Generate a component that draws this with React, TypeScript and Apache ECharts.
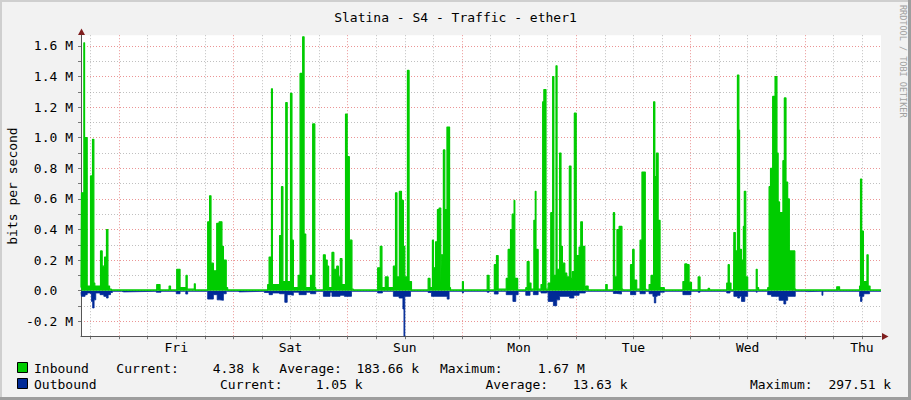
import React, { useEffect, useRef } from 'react';
import * as echarts from 'echarts';

// ---- text / categories ----
const TITLE = 'Slatina - S4 - Traffic - ether1';
const Y_AXIS_NAME = 'bits per second';
const WATERMARK = 'RRDTOOL / TOBI OETIKER';
const DAY_LABELS = ['Fri', 'Sat', 'Sun', 'Mon', 'Tue', 'Wed', 'Thu'];

// x is hours since Thu 16:00 (left edge) -> 168 h window
const X_MIN = 0;
const X_MAX = 168;
const LABEL_HOURS = [20, 44, 68, 92, 116, 140, 164]; // noon of each day
const MIDNIGHT_HOURS = [8, 32, 56, 80, 104, 128, 152];
const SIX_HOUR_HOURS = [2, 14, 20, 26, 38, 44, 50, 62, 68, 74, 86, 92, 98, 110, 116, 122, 134, 140, 146, 158, 164];

// y in Mbit/s
const Y_MIN = -0.2975;
const Y_MAX = 1.67;
const Y_MAJOR = [-0.2, 0, 0.2, 0.4, 0.6, 0.8, 1.0, 1.2, 1.4, 1.6];
const Y_MINOR = [-0.1, 0.1, 0.3, 0.5, 0.7, 0.9, 1.1, 1.3, 1.5];

// ---- legend ----
const LEGEND_NAMES = ['Inbound', 'Outbound'];
const LEGEND_CURRENT = ['4.38 k', '1.05 k'];
const LEGEND_AVERAGE = ['183.66 k', '13.63 k'];
const LEGEND_MAXIMUM = ['1.67 M', '297.51 k'];

// ---- series: [hour, value(M)] change points (value held until next point) ----
const INBOUND: [number, number][] = [
  [0, 0.02], [0.1, 0.64], [0.6, 1.62], [0.75, 1.0], [1.3, 0.03],
  [2.0, 0.75], [2.42, 0.99], [2.7, 0.05], [2.9, 0.03],
  [4.1, 0.26], [4.45, 0.16], [4.95, 0.22], [5.35, 0.4], [5.65, 0.03], [6.0, 0.01], [6.4, 0.005],
  [15.9, 0.04], [16.6, 0.005], [18.5, 0.03], [18.8, 0.005],
  [20.1, 0.14], [20.8, 0.02], [22.05, 0.1], [22.3, 0.01], [23.8, 0.045], [24.0, 0.005],
  [26.6, 0.45], [27.0, 0.62], [27.3, 0.18], [27.8, 0.13], [28.5, 0.44], [29.0, 0.45], [29.6, 0.29], [29.9, 0.2], [30.5, 0.02], [30.8, 0.005],
  [39.2, 0.04], [39.5, 0.22], [40.0, 1.32], [40.2, 0.04], [41.7, 0.36], [42.1, 0.68], [42.4, 0.06],
  [43.0, 1.23], [43.3, 0.06], [44.0, 1.29], [44.3, 0.33], [44.6, 0.02], [45.6, 0.1], [46.0, 1.42],
  [46.55, 1.66], [46.85, 0.37], [47.2, 0.02], [48.2, 0.1], [48.65, 1.09], [49.1, 0.02], [49.3, 0.005],
  [50.9, 0.235], [51.3, 0.2], [51.7, 0.16], [52.0, 0.02], [52.7, 0.25], [53.1, 0.14], [53.7, 0.16], [54.05, 0.09],
  [54.45, 0.21], [54.8, 0.04], [55.55, 1.155], [55.9, 0.876], [56.35, 0.33], [56.9, 0.01], [57.2, 0.005],
  [62.3, 0.15], [62.85, 0.29], [63.2, 0.02], [63.9, 0.09], [64.5, 0.02], [65.6, 0.16], [66.05, 0.64], [66.35, 0.09],
  [66.85, 0.65], [67.3, 0.59], [67.7, 0.29], [68.0, 0.09], [68.55, 1.44], [68.9, 0.06], [69.4, 0.005],
  [72.9, 0.08], [73.3, 0.02], [73.8, 0.33], [74.0, 0.15], [74.45, 0.32], [74.85, 0.53], [75.2, 0.54], [75.55, 0.04],
  [75.65, 0.235], [76.1, 0.92], [76.4, 0.53], [76.85, 1.07], [77.4, 0.02], [77.6, 0.005],
  [80.1, 0.06], [80.3, 0.005],
  [85.3, 0.1], [85.7, 0.005], [86.8, 0.17], [87.25, 0.23], [87.6, 0.01], [89.3, 0.08], [89.7, 0.27], [90.2, 0.4],
  [90.55, 0.5], [90.95, 0.59], [91.1, 0.08], [91.7, 0.005],
  [93.4, 0.02], [93.7, 0.19], [94.1, 0.05], [94.5, 0.01], [95.1, 0.46], [95.4, 0.65], [95.55, 0.27], [96.0, 0.01],
  [96.6, 0.04], [96.95, 1.235], [97.2, 1.315], [97.65, 0.01], [98.1, 0.05], [98.65, 0.51], [99.05, 1.4], [99.3, 0.1],
  [99.75, 1.47], [99.97, 0.14], [100.5, 0.9], [100.8, 0.29], [101.1, 0.18], [101.6, 0.115], [102.0, 0.09],
  [102.55, 0.815], [102.9, 0.08], [103.2, 0.125], [103.6, 1.16], [104.0, 0.06], [104.1, 0.23], [104.6, 0.285],
  [104.95, 0.45], [105.3, 0.29], [105.8, 0.01], [106.05, 0.03], [106.5, 0.005],
  [110.2, 0.04], [110.5, 0.005], [111.8, 0.51], [112.05, 0.09], [112.55, 0.4], [113.0, 0.42], [113.6, 0.01], [113.8, 0.005],
  [115.4, 0.17], [115.85, 0.27], [116.15, 0.07], [116.7, 0.01], [117.4, 0.33], [117.8, 0.775], [118.5, 0.01], [118.7, 0.005],
  [119.3, 0.04], [119.7, 0.1], [120.25, 1.235], [120.5, 0.745], [120.85, 0.9], [121.2, 0.46], [121.6, 0.02], [122.5, 0.005],
  [126.4, 0.06], [126.8, 0.175], [127.25, 0.17], [127.7, 0.055], [128.2, 0.005], [129.6, 0.09], [130.0, 0.005],
  [131.7, 0.015], [132.0, 0.005],
  [135.6, 0.05], [135.9, 0.17], [136.15, 0.05], [136.5, 0.005], [137.05, 0.04], [137.1, 0.38], [137.4, 0.26],
  [137.85, 1.41], [138.15, 1.05], [138.3, 0.27], [138.7, 0.2], [139.1, 0.42], [139.3, 0.65], [139.6, 0.09], [140.0, 0.005],
  [141.8, 0.14], [142.0, 0.02], [142.3, 0.005],
  [144.2, 0.02], [144.5, 0.68], [144.8, 0.8], [145.25, 1.27], [145.75, 1.4], [146.15, 0.9], [146.4, 0.58], [146.7, 0.51],
  [147.4, 0.85], [147.7, 1.26], [148.05, 0.71], [148.4, 0.6], [148.75, 0.26], [149.9, 0.01], [150.1, 0.005],
  [158.7, 0.025], [159.3, 0.005], [163.5, 0.03], [163.7, 0.73], [163.95, 0.39], [164.3, 0.06], [165.05, 0.235],
  [165.3, 0.03], [165.7, 0.005], [168, 0.005],
];

const OUTBOUND: [number, number][] = [
  [0, -0.01], [0.1, -0.037], [0.85, -0.026], [1.3, -0.015], [2.0, -0.02], [2.2, -0.07], [2.45, -0.113], [2.75, -0.06],
  [3.1, -0.015], [4.0, -0.026], [4.8, -0.037], [5.35, -0.048], [5.7, -0.026], [6.2, -0.012], [6.6, -0.004],
  [8.5, -0.008], [9.0, -0.004], [15.8, -0.01], [16.8, -0.004],
  [20.0, -0.02], [20.8, -0.004], [22.0, -0.022], [22.4, -0.004],
  [26.6, -0.055], [27.8, -0.026], [28.6, -0.06], [29.1, -0.063], [29.9, -0.02], [30.5, -0.004],
  [33.0, -0.008], [33.3, -0.004],
  [38.5, -0.012], [39.5, -0.026], [40.2, -0.015], [41.7, -0.02], [42.8, -0.076], [43.3, -0.026], [44.0, -0.03],
  [44.6, -0.01], [45.8, -0.026], [47.3, -0.01], [48.2, -0.02], [49.3, -0.004],
  [50.9, -0.037], [52.3, -0.01], [52.7, -0.037], [54.4, -0.03], [55.3, -0.037], [56.8, -0.004],
  [62.3, -0.015], [63.3, -0.004], [65.6, -0.037], [66.8, -0.048], [67.6, -0.12], [67.82, -0.2975], [68.0, -0.037],
  [69.2, -0.004],
  [72.9, -0.012], [73.6, -0.037], [76.9, -0.055], [77.3, -0.004], [80.1, -0.015], [80.3, -0.004],
  [85.3, -0.01], [85.7, -0.004], [86.8, -0.022], [87.6, -0.004], [89.3, -0.026], [90.7, -0.07], [91.3, -0.026], [91.8, -0.004],
  [93.4, -0.03], [94.3, -0.004], [95.0, -0.026], [96.0, -0.004], [96.6, -0.015], [97.8, -0.01], [98.1, -0.07],
  [99.2, -0.098], [99.9, -0.06], [100.5, -0.037], [102.6, -0.048], [103.5, -0.03], [104.6, -0.015], [105.9, -0.004],
  [111.8, -0.018], [112.5, -0.022], [113.5, -0.004], [115.4, -0.026], [116.5, -0.004], [117.4, -0.02], [118.5, -0.004],
  [119.3, -0.02], [120.1, -0.037], [120.4, -0.08], [120.7, -0.037], [121.0, -0.03], [121.6, -0.01], [122.5, -0.004],
  [126.4, -0.026], [128.1, -0.004], [129.6, -0.01], [130.0, -0.004],
  [135.6, -0.015], [136.3, -0.004], [137.1, -0.037], [137.9, -0.048], [138.3, -0.037], [138.7, -0.07], [139.4, -0.037],
  [140.0, -0.004], [141.8, -0.01], [142.0, -0.004],
  [144.2, -0.026], [145.0, -0.037], [146.6, -0.063], [147.6, -0.087], [148.0, -0.063], [148.4, -0.037], [150.0, -0.004],
  [152.0, -0.006], [152.6, -0.004], [155.6, -0.03], [155.8, -0.004],
  [163.5, -0.037], [163.7, -0.07], [164.0, -0.037], [164.4, -0.02], [165.6, -0.004], [168, -0.004],
];

const FONT = '"DejaVu Sans Mono", monospace';
const GREEN = '#00CC00';
const BLUE = '#002A97';
const MGRID = 'rgba(222,79,79,0.6)';
const GRID = 'rgba(150,150,150,0.6)';

function yLabel(v: number): string {
  if (Math.abs(v) < 1e-9) return '0.0\u00a0\u00a0';
  return v.toFixed(1) + ' M';
}

function dayLabel(v: number): string {
  const i = LABEL_HOURS.indexOf(Math.round(v));
  return i >= 0 ? DAY_LABELS[i] : '';
}

function legendText(x: number, y: number, text: string): any {
  return {
    type: 'text', x, y, silent: true,
    style: { text, font: `13px ${FONT}`, fill: '#000', align: 'left', verticalAlign: 'middle' },
  };
}

export default function App() {
  const ref = useRef<HTMLDivElement>(null);

  useEffect(() => {
    document.body.style.margin = '0';
    if (!ref.current) return;
    const chart = echarts.init(ref.current, undefined, { renderer: 'svg' });

    const xBase = { type: 'value', min: X_MIN, max: X_MAX, position: 'bottom', gridIndex: 0 };
    const yBase = { type: 'value', min: Y_MIN, max: Y_MAX, position: 'left', gridIndex: 0 };

    const rows = [368, 384];
    const graphic: any[] = [
      { type: 'rect', silent: true, shape: { x: 0, y: 0, width: 911, height: 2 }, style: { fill: '#CFCFCF' } },
      { type: 'rect', silent: true, shape: { x: 0, y: 0, width: 2, height: 400 }, style: { fill: '#CFCFCF' } },
      { type: 'rect', silent: true, shape: { x: 0, y: 397, width: 911, height: 3 }, style: { fill: '#9E9E9E' } },
      { type: 'rect', silent: true, shape: { x: 908, y: 0, width: 3, height: 400 }, style: { fill: '#9E9E9E' } },
      { type: 'polygon', silent: true, shape: { points: [[81.5, 28.5], [78, 35], [85, 35]] }, style: { fill: '#801F1F' } },
      { type: 'polygon', silent: true, shape: { points: [[888.5, 336.5], [882, 333], [882, 340]] }, style: { fill: '#801F1F' } },
      {
        type: 'text', x: 12, y: 186, rotation: Math.PI / 2, silent: true,
        style: { text: Y_AXIS_NAME, font: `13px ${FONT}`, fill: '#000', align: 'center', verticalAlign: 'middle' },
      },
      {
        type: 'text', x: 903, y: 5, rotation: -Math.PI / 2, silent: true,
        style: { text: WATERMARK, font: `8.5px ${FONT}`, fill: '#A0A0A0', align: 'left', verticalAlign: 'middle' },
      },
      { type: 'rect', silent: true, shape: { x: 17.5, y: 362.5, width: 10, height: 10 }, style: { fill: GREEN, stroke: '#000', lineWidth: 1 } },
      { type: 'rect', silent: true, shape: { x: 17.5, y: 378.5, width: 10, height: 10 }, style: { fill: BLUE, stroke: '#000', lineWidth: 1 } },
      legendText(34, rows[0], LEGEND_NAMES[0]),
      legendText(116.3, rows[0], 'Current:'),
      legendText(212.7, rows[0], LEGEND_CURRENT[0]),
      legendText(279.3, rows[0], 'Average:'),
      legendText(356.4, rows[0], LEGEND_AVERAGE[0]),
      legendText(440, rows[0], 'Maximum:'),
      legendText(537.8, rows[0], LEGEND_MAXIMUM[0]),
      legendText(34, rows[1], LEGEND_NAMES[1]),
      legendText(220, rows[1], 'Current:'),
      legendText(315.7, rows[1], LEGEND_CURRENT[1]),
      legendText(485.5, rows[1], 'Average:'),
      legendText(572.7, rows[1], LEGEND_AVERAGE[1]),
      legendText(750, rows[1], 'Maximum:'),
      legendText(828.5, rows[1], LEGEND_MAXIMUM[1]),
    ];

    const option: any = {
      animation: false,
      backgroundColor: '#F2F2F2',
      title: {
        text: TITLE, left: 'center', top: 6,
        textStyle: { fontFamily: FONT, fontSize: 13, fontWeight: 'normal', color: '#000' },
      },
      grid: {
        left: 81, top: 35.2, width: 800, height: 301,
        show: true, backgroundColor: '#FFFFFF', borderWidth: 0,
        containLabel: false, outerBoundsMode: 'none',
      },
      xAxis: [
        {
          ...xBase, z: 0,
          axisLine: { show: false, onZero: false },
          axisTick: { show: true, length: 3, customValues: SIX_HOUR_HOURS, lineStyle: { color: '#777' } },
          axisLabel: { show: false },
          splitLine: { show: true, lineStyle: { color: GRID, type: [1, 2], width: 1 } },
        },
        {
          ...xBase, z: 1,
          axisLine: { show: true, onZero: false, lineStyle: { color: '#555', width: 1 } },
          axisTick: { show: true, length: 3, customValues: MIDNIGHT_HOURS, lineStyle: { color: '#777' } },
          axisLabel: {
            show: true, customValues: LABEL_HOURS, formatter: dayLabel, margin: 5,
            color: '#000', fontFamily: FONT, fontSize: 13,
          },
          splitLine: { show: true, lineStyle: { color: MGRID, type: [1, 2], width: 1 } },
        },
      ],
      yAxis: [
        {
          ...yBase, z: 0,
          axisLine: { show: false, onZero: false },
          axisTick: { show: true, length: 3, customValues: Y_MINOR, lineStyle: { color: '#777' } },
          axisLabel: { show: false },
          splitLine: { show: true, lineStyle: { color: GRID, type: [1, 2], width: 1 } },
        },
        {
          ...yBase, z: 1,
          axisLine: { show: true, onZero: false, lineStyle: { color: '#555', width: 1 } },
          axisTick: { show: true, length: 3, customValues: Y_MAJOR, lineStyle: { color: '#777' } },
          axisLabel: {
            show: true, customValues: Y_MAJOR, formatter: yLabel, margin: 8,
            color: '#000', fontFamily: FONT, fontSize: 13,
          },
          splitLine: { show: true, lineStyle: { color: MGRID, type: [1, 2], width: 1 } },
        },
      ],
      series: [
        {
          name: 'Outbound', type: 'line', xAxisIndex: 1, yAxisIndex: 1, step: 'end',
          data: OUTBOUND, showSymbol: false, symbol: 'none', z: 3,
          lineStyle: { color: BLUE, width: 0.8 }, areaStyle: { color: BLUE, opacity: 1 },
        },
        {
          name: 'Inbound', type: 'line', xAxisIndex: 1, yAxisIndex: 1, step: 'end',
          data: INBOUND, showSymbol: false, symbol: 'none', z: 4,
          lineStyle: { color: GREEN, width: 1.2 }, areaStyle: { color: GREEN, opacity: 1 },
        },
      ],
      graphic,
    };

    chart.setOption(option);
    return () => chart.dispose();
  }, []);

  return <div ref={ref} style={{ width: 911, height: 400 }} />;
}
